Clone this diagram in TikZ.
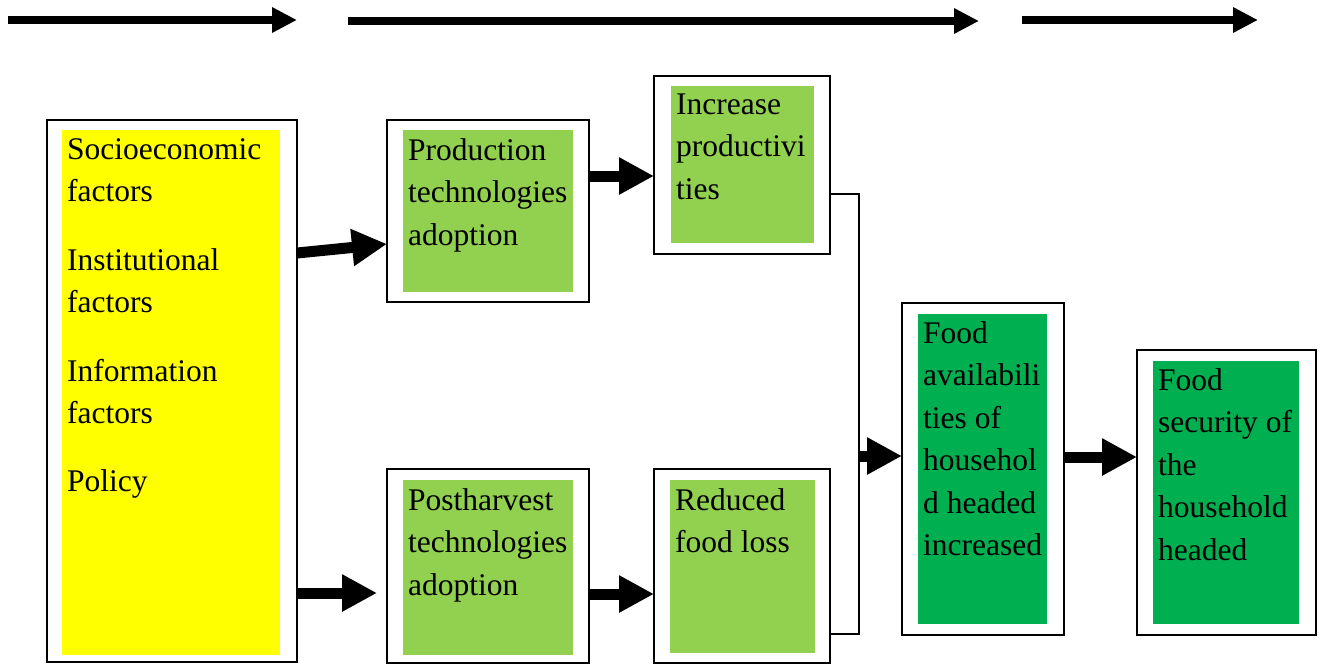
\documentclass[tikz,border=0pt]{standalone}
\usepackage{fontspec}
\setmainfont{Liberation Serif}
\usetikzlibrary{arrows.meta}
\definecolor{ylw}{HTML}{FFFF00}
\definecolor{lgreen}{HTML}{92D050}
\definecolor{dgreen}{HTML}{00B050}
\tikzset{
  outerbox/.style={draw, line width=1.6pt, rectangle, inner sep=0pt, outer sep=0pt, anchor=north west},
  fillbox/.style={fill=#1, draw=none, rectangle, inner sep=0pt, outer sep=0pt, anchor=north west},
  boxtext/.style={anchor=north west, yshift=29.75pt, inner sep=0pt, align=left, font=\fontsize{31.5}{42.5}\selectfont},
  bigarrow/.style={line width=11pt, -{Triangle[length=35pt,width=35pt]}},
  toparrow/.style={line width=8pt, -{Triangle[length=25pt,width=24pt]}},
  link/.style={line width=1.6pt}
}
\begin{document}
\begin{tikzpicture}[x=1pt,y=-1pt]
\useasboundingbox (0,0) rectangle (1320,664);
\clip (0,0) rectangle (1320,664);

% top arrows
\coordinate (t1a) at (8,20);   \coordinate (t1b) at (297,20);
\coordinate (t2a) at (348,21); \coordinate (t2b) at (979,21);
\coordinate (t3a) at (1022,20); \coordinate (t3b) at (1258,20);
\draw[toparrow] (t1a) -- (t1b);
\draw[toparrow] (t2a) -- (t2b);
\draw[toparrow] (t3a) -- (t3b);

% boxes
\node[outerbox, minimum width=250, minimum height=542] (socio) at (47,120) {};
\node[fillbox=ylw, minimum width=218, minimum height=525] (socioIn) at (62,130) {};
\node[boxtext, font=\fontsize{31.5}{42}\selectfont] (socioT) at (67,160) {\strut Socioeconomic\\factors\\[27pt]Institutional\\factors\\[27pt]Information\\factors\\[26pt]Policy};

\node[outerbox, minimum width=202, minimum height=182] (prod) at (387,120) {};
\node[fillbox=lgreen, minimum width=170, minimum height=162] (prodIn) at (403,130) {};
\node[boxtext] (prodT) at (408,160) {\strut Production\\technologies\\adoption};

\node[outerbox, minimum width=176, minimum height=178] (incr) at (654,76) {};
\node[fillbox=lgreen, minimum width=143, minimum height=157] (incrIn) at (671,86) {};
\node[boxtext] (incrT) at (676,114) {\strut Increase\\productivi\\ties};

\node[outerbox, minimum width=202, minimum height=194] (post) at (387,469) {};
\node[fillbox=lgreen, minimum width=170, minimum height=175] (postIn) at (403,480) {};
\node[boxtext] (postT) at (408,510) {\strut Postharvest\\technologies\\adoption};

\node[outerbox, minimum width=176, minimum height=194] (red) at (654,469) {};
\node[fillbox=lgreen, minimum width=145, minimum height=173] (redIn) at (670,480) {};
\node[boxtext] (redT) at (675,510) {\strut Reduced\\food loss};

\node[outerbox, minimum width=162, minimum height=332] (avail) at (902,303) {};
\node[fillbox=dgreen, minimum width=129, minimum height=310] (availIn) at (918,314) {};
\node[boxtext] (availT) at (923,343) {\strut Food\\availabili\\ties of\\househol\\d headed\\increased};

\node[outerbox, minimum width=179, minimum height=285] (sec) at (1137,350) {};
\node[fillbox=dgreen, minimum width=146, minimum height=263] (secIn) at (1153,361) {};
\node[boxtext] (secT) at (1158,390) {\strut Food\\security of\\the\\household\\headed};

% connectors
\draw[bigarrow] ([yshift=-133]socio.north east) -- ([yshift=-124]prod.north west);
\draw[bigarrow] ([yshift=-56]prod.north east) -- ([yshift=-100]incr.north west);
\draw[bigarrow] ([yshift=-473]socio.north east) -- ([xshift=-10,yshift=-124]post.north west);
\draw[bigarrow] ([yshift=-125]post.north east) -- ([yshift=-125]red.north west);

\coordinate (jtop) at (859,194);
\coordinate (jbot) at (859,634);
\coordinate (jmid) at (859,456);
\draw[link] ([yshift=-118]incr.north east) -- (jtop) -- (jbot) -- ([yshift=-165]red.north east);
\draw[bigarrow] (jmid) -- (avail.west |- jmid);
\draw[bigarrow] ([yshift=-154]avail.north east) -- ([yshift=-107]sec.north west);
\end{tikzpicture}
\end{document}
